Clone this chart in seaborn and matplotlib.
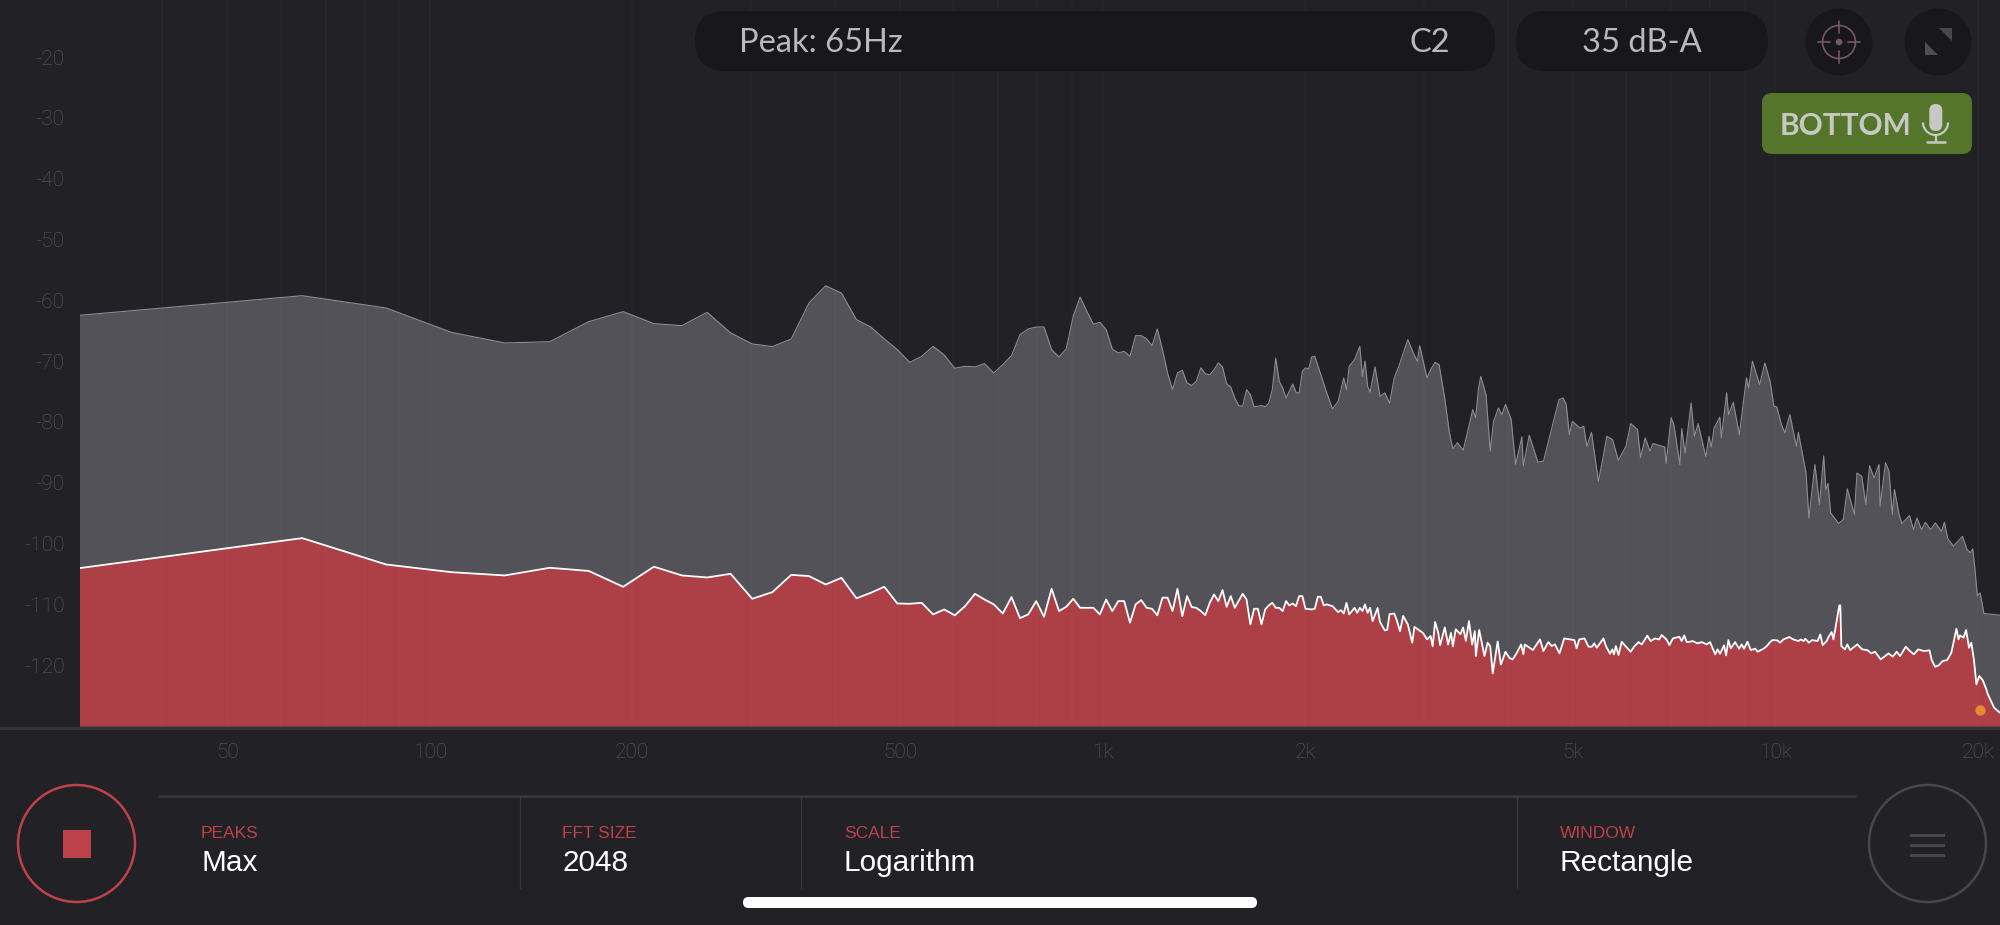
"""
Spectrum analyzer screen: max-hold peaks against the noise floor
"""

import matplotlib
matplotlib.use("Agg")
import matplotlib.pyplot as plt
import numpy as np
import seaborn as sns
from matplotlib.patches import Circle, FancyBboxPatch, Polygon, Rectangle, Arc
from matplotlib.ticker import NullFormatter

sns.set_style("dark")
plt.rcParams['font.family'] = ['Liberation Sans', 'DejaVu Sans']

# FFT bin width in Hz (44.1 kHz, 2048 points)
BIN_HZ = 44100 / 2048

peak_bins = [
    1.4, 3, 4, 5, 6, 7, 8, 9, 10, 11, 12, 13, 14, 15, 16, 17, 18, 19, 20, 21, 22, 23, 24, 25, 26, 27, 28, 29, 30, 31,
    32, 33, 34, 35, 36, 37, 38, 39, 40, 41, 42, 43, 44, 45, 46, 47, 48, 49, 50, 51, 52, 53, 54, 55, 56, 57, 58, 59,
    60, 61, 62, 63, 64, 65, 66, 67, 68, 69, 70, 71, 72, 73, 74, 75, 76, 77, 78, 79, 80, 81, 82, 83, 84, 85, 86, 87,
    88, 89, 90, 91, 92, 93, 94, 95, 96, 98, 100, 102, 104, 106, 107, 108, 110, 112, 113, 114, 115, 116, 118, 120,
    122, 124, 126, 128,
    129.9, 132, 134.5, 136.3, 137.5, 139.3, 141, 142.7, 144.9, 146.9, 149.6, 152.2, 154, 156.4, 159.5, 162.7, 164.8,
    166.5, 168, 169.4, 172.5, 175, 177, 180, 182, 184.4, 188, 190.9, 195, 196, 200, 206, 210, 214.5, 221.5, 224.5,
    227, 229.4, 231.8, 238, 241, 243.6, 247.5, 253.4, 257.4, 260.8, 266, 271.3, 278.5, 283, 289.7, 292.7, 297.4,
    302.3, 305.3, 318, 319.5, 325, 328, 335, 337, 341, 348, 352, 356.5, 366, 370, 373, 376.5, 384, 386, 393, 395.6,
    402, 410.5, 420.6, 423.7, 429.3, 440, 448, 456, 462, 466.5, 474, 479.7, 488, 499, 502.4, 515.8, 520.8, 531.7,
    540, 547.9, 552, 556, 561, 576.6, 586, 594, 608.6, 614, 624, 633, 641, 651, 662, 664.5, 677, 685, 693, 698, 709,
    716, 735, 745, 754, 766, 776, 790, 803, 820, 828, 838, 854, 868, 881, 895, 905, 912.5, 918.5, 927, 936, 948, 1005,
]
peak_db = [
    -62.46, -59.23, -61.26, -65.26, -67.0, -66.8, -63.5, -61.86, -63.83, -64.16, -61.97, -65.36, -67.17, -67.6,
    -66.35, -60.43, -57.6, -58.8, -63.17, -64.38, -66.35, -68.1, -70.2, -69.2, -67.56, -68.98, -71.17, -70.84,
    -70.95, -70.4, -71.94, -70.57, -69.09, -65.64, -64.7, -64.38, -64.38, -68.1, -69.3, -68.0, -62.6, -59.45, -61.8,
    -63.94, -63.6, -64.8, -68.0, -68.65, -68.38, -69.2, -65.8, -65.8, -66.35, -67.45, -64.7, -68.1, -71.94, -74.68,
    -71.94, -71.5, -73.58, -74.0, -73.3, -71.1, -72.05, -72.27, -71.4, -70.3, -70.95, -73.7, -74.24, -76.05, -77.3,
    -77.4, -74.68, -75.5, -77.5, -77.4, -77.3, -77.5, -76.9, -74.7, -69.5, -73.3, -74.4, -76.05, -74.95, -73.75,
    -75.1, -75.3, -71.67, -71.1, -71.3, -69.3, -69.2, -72.2, -75.2, -77.85, -76.6, -72.76, -74.7, -70.84, -69.75,
    -67.56, -72.5, -70.0, -74.1, -75.1, -70.95, -75.8, -75.2, -76.9, -72.76, -70.84,
    -68.76, -66.46, -68.65, -70.0, -67.45, -70.3, -72.76, -71.4, -70.2, -70.57, -75.77, -81.8, -84.4, -83.4, -84.65,
    -80.7, -77.96, -79.3, -74.7, -72.5, -75.5, -84.8, -79.9, -77.7, -78.8, -77.1, -79.6, -87.0, -82.45, -87.2, -82.2,
    -86.6, -86.45, -82.35, -76.3, -76.05, -77.1, -82.07, -79.9, -81.0, -80.7, -84.0, -81.7, -89.74, -85.9, -82.35,
    -82.9, -86.3, -84.0, -80.26, -81.25, -85.9, -82.6, -84.8, -83.55, -84.1, -86.84, -79.3, -80.4, -87.0, -81.1,
    -85.1, -76.9, -82.35, -80.26, -85.74, -82.35, -84.1, -81.0, -79.2, -82.6, -75.2, -78.8, -76.76, -82.07, -72.76,
    -74.4, -70.0, -73.85, -70.3, -73.3, -77.4, -77.5, -80.4, -81.8, -78.8, -84.0, -81.7, -88.4, -95.8, -87.0, -93.6,
    -85.6, -91.1, -90.1, -94.94, -96.7, -96.04, -91.0, -95.2, -88.4, -88.9, -93.6, -87.2, -89.2, -87.0, -93.85,
    -86.7, -88.1, -95.2, -91.1, -95.2, -96.7, -95.4, -97.7, -95.8, -97.7, -96.5, -97.7, -96.6, -98.0, -96.5, -99.2,
    -100.4, -99.6, -98.8, -101.0, -101.5, -100.86, -103.7, -108.6, -108.1, -111.5, -111.8,
]

floor_bins = [
    1.4, 3, 4, 5, 6, 7, 8, 9, 10, 11, 12, 13, 14, 15, 16, 17, 18, 19, 20, 21, 22, 23, 24, 25, 26, 27, 28, 29, 30, 31,
    32, 33, 34, 35, 36, 37, 38, 39, 40, 41, 42, 43, 44, 45, 46, 47, 48, 49, 50, 51, 52, 53, 54, 55, 56, 57, 58, 59,
    60, 61, 62, 63, 64, 65, 66, 67, 68, 69, 70, 71, 72, 73, 75, 76, 77, 78, 79, 80, 81, 82, 83, 84, 85, 86, 87, 88,
    89, 90, 91, 92, 93, 95, 96, 97, 98, 99, 100, 102, 104, 105, 106, 107, 108, 110, 111, 112, 113, 114, 115, 116, 117,
    118, 119, 120, 122, 123, 124, 126, 127,
    128.5, 129.9, 132, 134, 135, 139, 141, 142.7, 143.7, 144.9, 146.5, 147.4, 149.8, 151.5, 153, 154, 155.5, 158,
    159.5, 161, 162.7, 164.5, 166, 166.6, 168.5, 171.6, 173.4, 175, 176.5, 179.5, 181.5, 184.4, 186.9, 189, 191.7,
    194.5, 196, 197, 202.5,
    207.5, 209.9, 213.5, 216, 218.4, 221.8, 225.4, 229.9, 233.4, 235.2, 237.3, 241.6, 245, 247.9, 249.8, 252, 257.8,
    260, 263.7, 265.8, 267.3, 269, 271.5, 274.5, 278.5, 283, 286.3, 290.7, 293.9, 299.6, 303, 307.6, 312, 314.7,
    319.8, 323.2, 327, 334.3, 336.9, 340, 342.8, 346.7, 350, 355.6, 361, 367.1, 371.3, 378, 381, 384.3, 389.5, 392.3,
    395.4, 398.6, 404.6, 410.1, 413.9, 417.2, 422, 426.9, 433.5, 437, 446, 451, 456, 460, 467.5, 472,
    477.2, 487, 493.8, 502.5, 506.5, 511.6, 514.5, 520.6, 526.6, 536.5, 541.5, 546, 553.5, 558, 563, 566.5, 570.5,
    578, 580, 582, 589, 594, 599.6, 614.8, 625, 636, 645, 653, 666, 684, 694, 703.4, 711.5, 725.6, 736, 746, 757,
    772, 787, 793, 802, 812, 823, 836, 848, 863, 869, 873.7, 884, 892, 901, 908, 916, 924, 933, 944, 956, 961, 982,
    1001, 1005,
]
floor_db = [
    -104.04, -99.1, -103.44, -104.7, -105.24, -103.98, -104.5, -107.1, -103.8, -105.24, -105.57, -104.97, -109.08,
    -107.98, -105.14, -105.35, -106.72, -105.63, -109.0, -108.1, -107.1, -109.85, -109.9, -109.74, -111.65, -110.83,
    -111.8, -110.3, -108.26, -109.2, -110.0, -111.5, -108.8, -112.26, -111.65, -109.46, -112.04, -107.44, -111.1,
    -110.4, -109.08, -110.56, -110.56, -110.56, -111.65, -109.2, -111.1, -109.46, -109.46, -113.0, -110.0, -109.3,
    -110.56, -110.72, -111.8, -108.9, -108.9, -111.1, -107.44, -111.93, -108.64, -110.45, -110.56, -111.1, -111.76,
    -109.74, -108.37, -109.46, -107.65, -110.4, -108.64, -110.56, -108.26, -109.2, -113.3, -110.72, -110.72, -113.3,
    -110.83, -110.17, -109.74, -110.56, -110.56, -111.1, -109.46, -110.17, -109.85, -110.3, -108.64, -108.64, -110.72,
    -110.83, -110.72, -108.75, -108.75, -110.17, -110.0, -110.3, -111.27, -110.94, -111.5, -109.74, -111.65, -110.56,
    -111.38, -110.56, -111.1, -110.0, -111.38, -110.56, -112.75, -111.7, -110.6, -112.9, -114.28, -114.2, -111.6,
    -111.5, -112.5,
    -114.4, -111.9, -113.3, -116.3, -113.7, -114.7, -115.76, -115.2, -116.9, -112.9, -114.7, -116.7, -113.8, -116.6,
    -114.7, -116.9, -114.1, -114.9, -113.8, -116.0, -112.75, -116.6, -114.4, -118.5, -114.2, -118.5, -116.3, -116.9,
    -121.35, -116.1, -119.9, -117.8, -118.8, -119.05, -117.95, -116.6, -118.2, -116.6, -117.5,
    -115.76, -117.67, -116.2, -116.85, -116.58, -118.06, -115.6, -115.76, -115.87, -117.24, -115.76, -115.6, -116.96,
    -116.96, -116.41, -117.13, -115.6, -116.85, -118.11, -117.4, -118.22, -116.85, -118.33, -116.14, -116.96, -117.78,
    -116.96, -116.2, -116.58, -115.15, -116.03, -115.6, -115.76, -115.04, -115.76, -116.69, -115.6, -115.32, -116.03,
    -115.1, -116.2, -116.14, -116.03, -116.41, -116.2, -116.58, -116.2, -118.22, -117.4, -118.11, -116.74, -118.39,
    -115.87, -117.24, -116.2, -117.29, -116.58, -117.29, -116.14, -117.51, -117.29, -117.78, -117.29, -116.85, -116.2,
    -115.87, -115.92, -116.3,
    -115.76, -115.37, -115.76, -116.03, -115.76, -116.03, -115.65, -116.3, -115.87, -116.03, -114.94, -116.69, -116.03,
    -115.21, -114.55, -115.76, -113.84, -110.17, -110.17, -116.85, -117.4, -116.58, -117.51, -116.58, -117.4, -117.51,
    -118.06, -117.78, -119.04, -118.06, -118.6, -117.78, -118.5, -116.96, -117.67, -118.22, -117.4, -117.67, -117.56,
    -119.15, -120.25, -120.03, -119.32, -119.15, -117.95, -114.0, -115.76, -115.1, -115.48, -114.22, -117.13, -116.3,
    -119.04, -123.15, -121.78, -122.44, -123.97, -124.8, -127.0, -127.8, -127.8,
]

y_ticks = [-20, -30, -40, -50, -60, -70, -80, -90, -100, -110, -120]
x_ticks = [50, 100, 200, 500, 1000, 2000, 5000, 10000, 20000]
x_labels = ['50', '100', '200', '500', '1k', '2k', '5k', '10k', '20k']
grid_freqs = [40, 50, 60, 70, 80, 90, 100, 200, 300, 400, 500, 600, 700, 800, 900,
              1000, 2000, 3000, 4000, 5000, 6000, 7000, 8000, 9000, 10000, 20000]
live_hz = 20170
live_db = -127.3

settings = ['PEAKS', 'FFT SIZE', 'SCALE', 'WINDOW']
setting_values = ['Max', '2048', 'Logarithm', 'Rectangle']

BG = '#212126'
PILL = '#18181c'
GREY = '#525258'
RED = '#ad3f46'
UI_RED = '#bd4249'
TICK = '#5a5a5f'


def draw_chart(ax):
    peak_hz = np.array(peak_bins) * BIN_HZ
    floor_hz = np.array(floor_bins) * BIN_HZ

    ax.set_facecolor(BG)
    ax.fill_between(peak_hz, -130, peak_db, color=GREY, lw=0)
    ax.fill_between(floor_hz, -130, floor_db, color=RED, lw=0)
    sns.lineplot(x=peak_hz, y=peak_db, ax=ax, color='#8e8e92', lw=0.8, estimator=None, sort=False)
    sns.lineplot(x=floor_hz, y=floor_db, ax=ax, color='white', lw=1.3, estimator=None, sort=False)
    ax.scatter([live_hz], [live_db], s=55, color='#e58a30', lw=0, zorder=5)

    ax.set_xscale('log')
    ax.set_xticks(x_ticks)
    ax.set_xticklabels(x_labels)
    ax.set_xticks(grid_freqs, minor=True)
    ax.xaxis.set_minor_formatter(NullFormatter())
    ax.set_yticks(y_ticks)
    ax.set_yticklabels([str(t) for t in y_ticks])
    # ticks can widen the view, so the limits come after them
    ax.set_xlim(30.2, 21570)
    ax.set_ylim(-130, -10.6)
    ax.tick_params(axis='x', which='both', length=0, pad=12, labelsize=15, labelcolor=TICK)
    ax.tick_params(axis='y', length=0, pad=11, labelsize=15, labelcolor=TICK)
    for label in ax.get_xticklabels() + ax.get_yticklabels():
        label.set_family(['Roboto', 'DejaVu Sans'])
        label.set_fontweight('light')
    for label in ax.get_yticklabels():
        label.set_verticalalignment('center_baseline')

    ax.set_axisbelow(False)
    ax.grid(False)
    ax.grid(True, which='both', axis='x', color='white', alpha=0.018, lw=1.2)
    sns.despine(ax=ax, left=True, bottom=True)
    ax.set_xlabel('')
    ax.set_ylabel('')


def pill(ax, x0, y0, x1, y1, radius, color):
    ax.add_patch(FancyBboxPatch((x0 + radius, y0 + radius), x1 - x0 - 2 * radius, y1 - y0 - 2 * radius,
                                boxstyle=f'round,pad={radius},rounding_size={radius}', fc=color, ec='none'))


def draw_ui(ax):
    ax.set_xlim(0, 2000)
    ax.set_ylim(925, 0)
    ax.axis('off')

    # top bar
    pill(ax, 695, 11, 1495, 71, 30, PILL)
    pill(ax, 1516, 11, 1768, 71, 30, PILL)
    ax.add_patch(Circle((1839, 42), 33.5, fc=PILL, ec='none'))
    ax.add_patch(Circle((1938, 42), 33.5, fc=PILL, ec='none'))
    top_style = dict(color='#b9b9bc', fontsize=23.5, family=['Lato', 'DejaVu Sans'], va='center')
    ax.text(739, 43, 'Peak: 65Hz', ha='left', **top_style)
    ax.text(1450, 43, 'C2', ha='right', **top_style)
    ax.text(1642, 43, '35 dB-A', ha='center', **top_style)

    # crosshair
    icon = '#75595e'
    ax.add_patch(Circle((1839, 42), 16.5, fc='none', ec=icon, lw=1.2))
    ax.add_patch(Circle((1839, 42), 3.3, fc=icon, ec='none'))
    for dx, dy in [(1, 0), (-1, 0), (0, 1), (0, -1)]:
        ax.plot([1839 + dx * 9, 1839 + dx * 20.7], [42 + dy * 9, 42 + dy * 20.7], color=icon, lw=1.2)

    # fullscreen icon
    ax.add_patch(Polygon([(1939.3, 28), (1952.3, 28), (1952.3, 40.7)], fc='#47474c', ec='none'))
    ax.add_patch(Polygon([(1925, 42.3), (1925, 55), (1937.7, 55)], fc='#4e4e53', ec='none'))

    # mic badge
    pill(ax, 1762, 93, 1972, 154, 10, '#54752a')
    ax.text(1780, 126, 'BOTTOM', ha='left', va='center', color='#c6c8c4', fontsize=21.5,
            family=['Lato', 'DejaVu Sans'], fontweight='bold')
    mic = '#c6c8c4'
    pill(ax, 1929.3, 104, 1942.3, 131, 6.5, mic)
    ax.add_patch(Arc((1935.5, 122.5), 25, 25, theta1=0, theta2=180, ec=mic, lw=1.6))
    ax.plot([1935.5, 1935.5], [135, 141.5], color=mic, lw=1.6)
    ax.plot([1926.7, 1945], [141.5, 141.5], color=mic, lw=1.8)

    # axis rule under the plot
    ax.add_patch(Rectangle((0, 727), 2000, 3, fc='#323237', ec='none'))

    # bottom controls
    ax.add_patch(Circle((76.5, 843.5), 58.5, fc='none', ec=UI_RED, lw=1.8))
    ax.add_patch(Rectangle((63, 830), 28, 28, fc=UI_RED, ec='none'))
    ax.add_patch(Circle((1927.5, 843.5), 58.5, fc='none', ec='#47474c', lw=1.8))
    for y in [835, 845, 855]:
        ax.add_patch(Rectangle((1910, y - 1.5), 35, 3, fc='#47474c', ec='none'))

    ax.plot([158, 1856], [796, 796], color='#37373c', lw=1.8, solid_capstyle='butt')
    for x in [520, 801, 1517]:
        ax.plot([x, x], [796, 888], color='#37373c', lw=0.9)

    for x, name, value in zip([201, 562.5, 844, 1560], settings, setting_values):
        ax.text(x, 834, name, color=UI_RED, fontsize=12.5, ha='left', va='center')
        ax.text(x, 863, value, color='white', fontsize=21.4, ha='left', va='center')

    # home indicator
    pill(ax, 743, 897, 1257, 908, 5.5, 'white')


def main():
    fig = plt.figure(figsize=(20, 9.25), dpi=100, facecolor=BG)
    ax = fig.add_axes([80 / 2000, 199 / 925, 1920 / 2000, 726 / 925])
    draw_chart(ax)
    ui = fig.add_axes([0, 0, 1, 1], facecolor='none')
    draw_ui(ui)
    fig.savefig('out.png', dpi=100, facecolor=BG)
    plt.close(fig)


if __name__ == "__main__":
    main()
